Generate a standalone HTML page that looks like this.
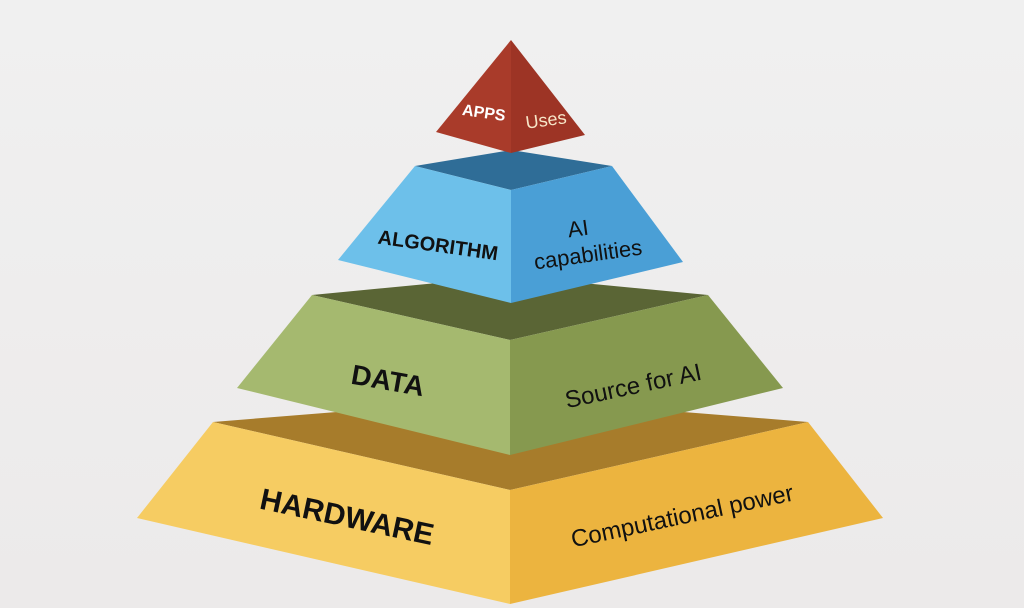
<!DOCTYPE html>
<html><head><style>
html,body{margin:0;padding:0;background:#efeeee;}
svg{display:block}
text{font-family:"Liberation Sans",sans-serif;}
</style></head><body>
<svg width="1024" height="608" viewBox="0 0 1024 608" xmlns="http://www.w3.org/2000/svg">
<defs>
<linearGradient id="bg" x1="0" y1="0" x2="0" y2="1"><stop offset="0" stop-color="#f0f0f0"/><stop offset="1" stop-color="#eceaea"/></linearGradient>
</defs>
<rect width="1024" height="608" fill="url(#bg)"/>
<!-- hardware -->
<polygon points="213,422 510,398 808,422 510,490" fill="#a77c2b"/>
<polygon points="213,422 510,490 510,604 137,518" fill="#f6cc62"/>
<polygon points="510,490 808,422 883,518 510,604" fill="#ecb43f"/>
<!-- data -->
<polygon points="312,295 510,276 708,295 510,340" fill="#5a6535"/>
<polygon points="312,295 510,340 510,455 237,388" fill="#a5b96f"/>
<polygon points="510,340 708,295 783,388 510,455" fill="#86994f"/>
<!-- algorithm -->
<polygon points="415,166 511,150 612,166 511,190" fill="#2f6d97"/>
<polygon points="415,166 511,190 511,303 338,260" fill="#6dc0ea"/>
<polygon points="511,190 612,166 683,262 511,303" fill="#4a9fd6"/>
<!-- apps -->
<polygon points="511,40 436,132 511,153" fill="#a93b2a"/>
<polygon points="511,40 511,153 585,135" fill="#9d3425"/>
<!-- labels -->
<text x="484" y="118" font-size="16" font-weight="bold" fill="#fff" text-anchor="middle" transform="rotate(8 484 112)">APPS</text>
<text x="546" y="126" font-size="18" fill="#f7e6c8" text-anchor="middle" transform="rotate(-8 546 120)">Uses</text>
<text x="438" y="252" font-size="20" font-weight="bold" fill="#111" text-anchor="middle" transform="rotate(8 438 245)">ALGORITHM</text>
<text x="578" y="236" font-size="22" fill="#111" text-anchor="middle" transform="rotate(-8 578 228)">AI</text>
<text x="588" y="262" font-size="22" fill="#111" text-anchor="middle" transform="rotate(-8 588 255)">capabilities</text>
<text x="388" y="390" font-size="28" font-weight="bold" fill="#111" text-anchor="middle" transform="rotate(10 388 380)">DATA</text>
<text x="633" y="394" font-size="24" fill="#111" text-anchor="middle" transform="rotate(-12 633 385)">Source for AI</text>
<text x="347" y="527" font-size="30" font-weight="bold" fill="#111" text-anchor="middle" transform="rotate(12 347 517)">HARDWARE</text>
<text x="682" y="524" font-size="24" fill="#111" text-anchor="middle" transform="rotate(-12 682 515)">Computational power</text>
</svg>
</body></html>
